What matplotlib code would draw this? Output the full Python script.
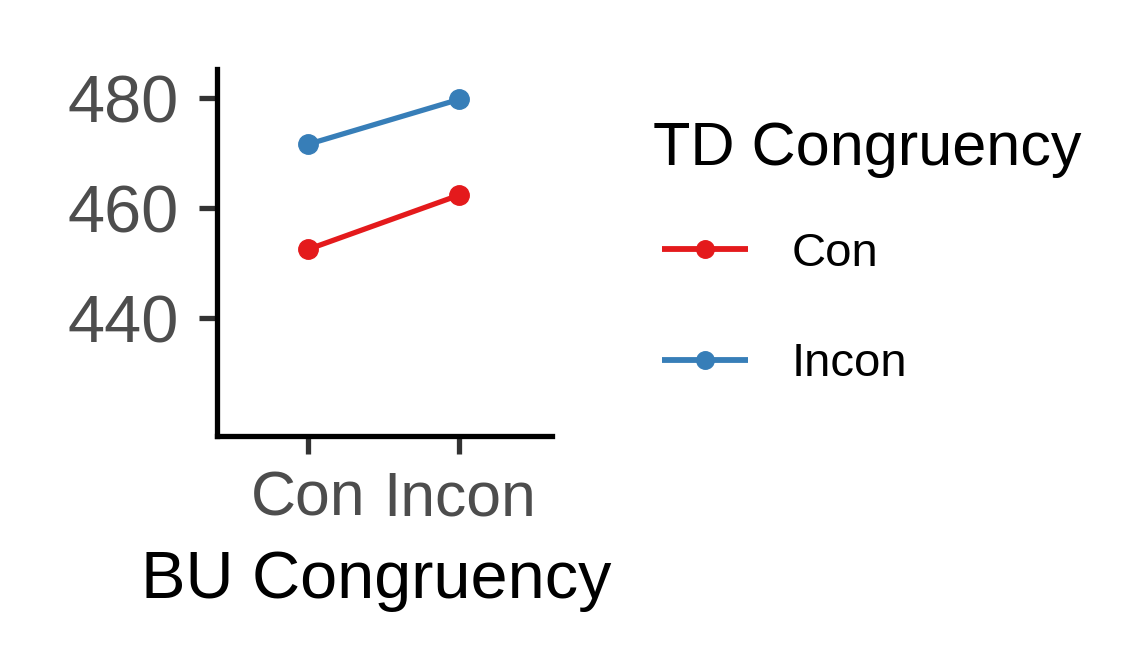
import matplotlib
matplotlib.use("Agg")
import matplotlib.pyplot as plt

bu_levels = ["Con", "Incon"]
td_levels = ["Con", "Incon"]
rt_td_con = [452.5, 462.4]
rt_td_incon = [471.6, 479.8]
colors = ["#E41A1C", "#377EB8"]
yticks = [440, 460, 480]

plt.rcParams['font.family'] = ['Liberation Sans', 'DejaVu Sans']

W, H = 1136, 656
fig = plt.figure(figsize=(W / 100, H / 100), dpi=100)
ax = fig.add_axes([0.1908, 0.3354, 0.2951, 0.5594])

x = list(range(len(bu_levels)))
for vals, col, lab in zip([rt_td_con, rt_td_incon], colors, td_levels):
    ax.plot(x, vals, color=col, lw=3.8, marker='o', ms=14, label=lab,
            solid_capstyle='butt')

ax.set_xlim(-0.6, 1.61)
ax.set_ylim(418.6, 485.3)
ax.set_xticks(x)
ax.set_xticklabels(bu_levels)
ax.set_yticks(yticks)
for s in ['top', 'right']:
    ax.spines[s].set_visible(False)
for s in ['left', 'bottom']:
    ax.spines[s].set_linewidth(3.8)
    ax.spines[s].set_color('black')
    ax.spines[s].set_capstyle('projecting')
ax.tick_params(axis='both', length=13.3, width=3.8, color='#333333',
               labelcolor='#4D4D4D')
ax.tick_params(axis='y', labelsize=48, pad=14)
ax.tick_params(axis='x', labelsize=45, pad=11)
ax.set_xlabel("BU Congruency", fontsize=48, color='black', va='baseline')
ax.xaxis.set_label_coords(376.5 / W, (H - 598) / H, transform=fig.transFigure)

fig.text(653 / W, (H - 165) / H, "TD Congruency", fontsize=44,
         ha='left', va='baseline', color='black')

handles, labels = ax.get_legend_handles_labels()
leg = fig.legend(handles, labels, loc='center left',
                 bbox_to_anchor=(662 / W, (H - 309) / H), frameon=False,
                 fontsize=34, handlelength=1.82, handletextpad=0.93,
                 labelspacing=1.4, borderaxespad=0, borderpad=0,
                 markerscale=0.9)
for h in leg.get_lines():
    h.set_linewidth(4.2)

fig.savefig("out.png", dpi=100)
